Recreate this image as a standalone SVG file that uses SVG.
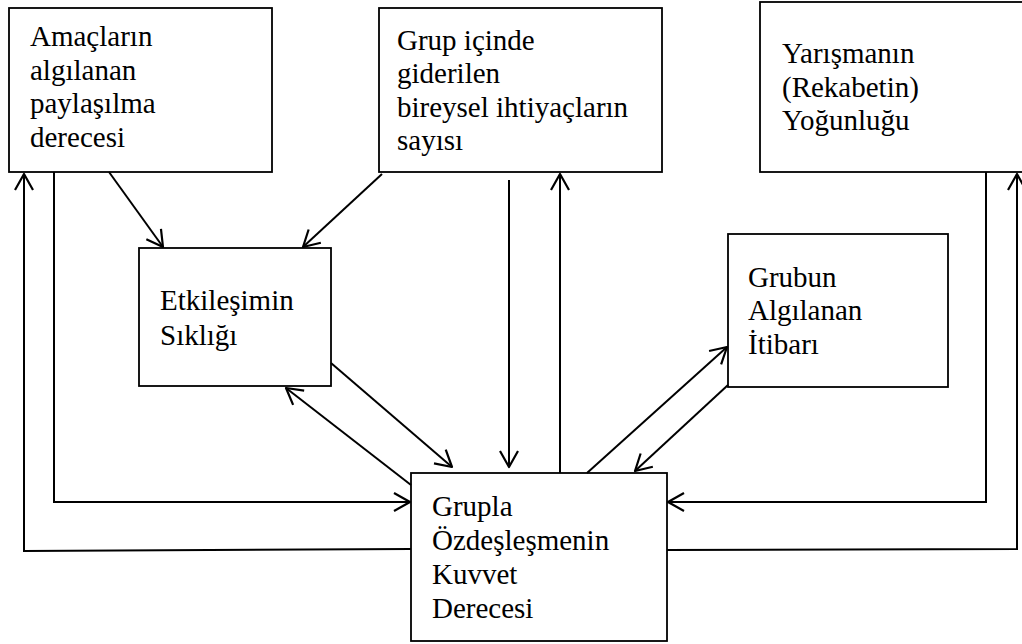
<svg xmlns="http://www.w3.org/2000/svg" width="1022" height="644" viewBox="0 0 1022 644">
<style>
.box{fill:#fff;stroke:#000;stroke-width:1.8}
.t{font-family:"Liberation Serif","Times New Roman",serif;font-size:29px;fill:#000}
.c{fill:none;stroke:#000;stroke-width:2}
.a{marker-end:url(#arr)}
</style>
<defs>
<marker id="arr" viewBox="-20 -12 22 24" markerWidth="22" markerHeight="24" refX="0" refY="0" orient="auto" markerUnits="userSpaceOnUse">
<path d="M-16,-9 L0,0 L-16,9" fill="none" stroke="#000" stroke-width="2.2" stroke-linejoin="round"/>
</marker>
</defs>
<rect width="1022" height="644" fill="#fff"/>
<g id="n1"><rect class="box" x="9" y="8" width="263" height="164"/>
<text class="t" x="30" y="46">Amaçların</text><text class="t" x="30" y="80">algılanan</text><text class="t" x="30" y="113">paylaşılma</text><text class="t" x="30" y="147">derecesi</text></g>
<g id="n2"><rect class="box" x="379" y="8" width="283" height="164"/>
<text class="t" x="397" y="50">Grup içinde</text><text class="t" x="397" y="83">giderilen</text><text class="t" x="397" y="117">bireysel ihtiyaçların</text><text class="t" x="397" y="150">sayısı</text></g>
<g id="n3"><rect class="box" x="760" y="2" width="280" height="170"/>
<text class="t" x="782" y="63">Yarışmanın</text><text class="t" x="782" y="97">(Rekabetin)</text><text class="t" x="782" y="130">Yoğunluğu</text></g>
<g id="n4"><rect class="box" x="139" y="248" width="192" height="138"/>
<text class="t" x="160" y="310">Etkileşimin</text><text class="t" x="160" y="345">Sıklığı</text></g>
<g id="n5"><rect class="box" x="728" y="234" width="220" height="153"/>
<text class="t" x="748" y="287">Grubun</text><text class="t" x="748" y="320">Algılanan</text><text class="t" x="748" y="354">İtibarı</text></g>
<g id="n6"><rect class="box" x="411" y="473" width="256" height="168"/>
<text class="t" x="432" y="516">Grupla</text><text class="t" x="432" y="550">Özdeşleşmenin</text><text class="t" x="432" y="584">Kuvvet</text><text class="t" x="432" y="618">Derecesi</text></g>
<g id="connectors">
<path class="c a" d="M411,549 L24,551 L24,174"/>
<path class="c a" d="M54,172 L54,502 L410,502"/>
<path class="c a" d="M109,172 L163,247"/>
<path class="c a" d="M382,174 L303,247"/>
<path class="c a" d="M509,180 L509,467"/>
<path class="c a" d="M560,473 L560,174"/>
<path class="c a" d="M331,363 L452,467"/>
<path class="c a" d="M411,485 L286,388"/>
<path class="c a" d="M587,473 L727,347"/>
<path class="c a" d="M728,385 L635,471"/>
<path class="c a" d="M986,172 L986,502 L668,502"/>
<path class="c a" d="M667,550 L1017,549 L1017,174"/>
</g>
</svg>
